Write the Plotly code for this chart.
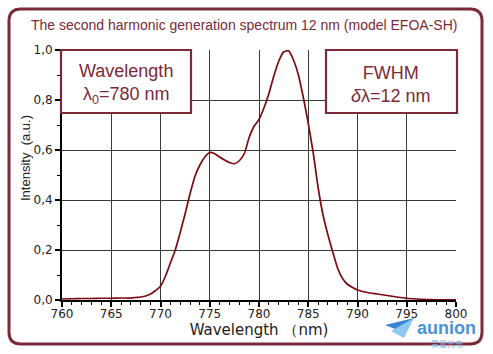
import plotly.graph_objects as go

# ---------------- data ----------------
wavelength = [760.0, 761.0, 762.0, 763.0, 764.0, 765.0, 766.0, 767.0, 767.5, 768.0,
              768.5, 769.0, 769.5, 770.0, 770.5, 771.0, 771.5, 772.0, 772.5, 773.0,
              773.5, 774.0, 774.5, 775.0, 775.5, 776.0, 776.5, 777.0, 777.5, 778.0,
              778.5, 779.0, 779.5, 780.0, 780.5, 781.0, 781.5, 782.0, 782.5, 783.0,
              783.5, 784.0, 784.5, 785.0, 785.5, 786.0, 786.5, 787.0, 787.5, 788.0,
              788.5, 789.0, 789.5, 790.0, 791.0, 792.0, 793.0, 794.0, 795.0, 796.0,
              797.0, 798.0, 799.0, 800.0]
intensity = [0.004, 0.005, 0.006, 0.006, 0.007, 0.007, 0.008, 0.008, 0.010, 0.012,
             0.016, 0.024, 0.038, 0.055, 0.095, 0.148, 0.200, 0.270, 0.345, 0.425,
             0.495, 0.540, 0.572, 0.590, 0.585, 0.572, 0.560, 0.550, 0.545, 0.557,
             0.585, 0.650, 0.695, 0.722, 0.768, 0.825, 0.895, 0.955, 0.992, 0.997,
             0.960, 0.900, 0.810, 0.707, 0.590, 0.450, 0.340, 0.260, 0.190, 0.125,
             0.085, 0.062, 0.050, 0.040, 0.030, 0.024, 0.018, 0.012, 0.007, 0.004,
             0.002, 0.001, 0.001, 0.001]

x_ticks = [760, 765, 770, 775, 780, 785, 790, 795, 800]
y_ticks = [0.0, 0.2, 0.4, 0.6, 0.8, 1.0]
y_ticklabels = ["0,0", "0,2", "0,4", "0,6", "0,8", "1,0"]
x_grid = [765, 770, 775, 780, 785, 790, 795]
y_grid = [0.2, 0.4, 0.6, 0.8]

title_text = "The second harmonic generation spectrum 12 nm (model EFOA-SH)"
x_title = "Wavelength （nm)"
y_title = "Intensity  (a.u.)"
left_box_text = "Wavelength<br>λ<sub>0</sub>=780 nm"
right_box_text = "FWHM<br><i>δ</i>λ=12 nm"

# ---------------- styling ----------------
W, H = 493, 354
ML, MR, MT, MB = 62, 37, 50, 54
PW, PH = W - ML - MR, H - MT - MB
DARKRED = "#7a2a38"
CURVE = "#7d0a10"


def px(xp):
    return (xp - ML) / PW


def py(yp):
    return (H - MB - yp) / PH


fig = go.Figure()

fig.add_trace(go.Scatter(x=[760], y=[0], xaxis="x2", yaxis="y2", mode="lines",
                         opacity=0, hoverinfo="skip", showlegend=False))
fig.add_trace(go.Scatter(x=wavelength, y=intensity, mode="lines",
                         line=dict(color=CURVE, width=1.7, shape="spline",
                                   smoothing=0.6),
                         showlegend=False))

axis_font = dict(family="DejaVu Sans", size=12, color="#222")

fig.update_layout(
    width=W, height=H,
    margin=dict(l=ML, r=MR, t=MT, b=MB),
    paper_bgcolor="white", plot_bgcolor="white",
    showlegend=False,
    xaxis=dict(range=[760, 800], tickvals=x_ticks, ticks="outside", ticklen=5,
               tickwidth=1.5, tickcolor="black", showline=True, linecolor="black",
               linewidth=2, showgrid=False, zeroline=False, tickfont=axis_font,
               ticklabelstandoff=-3,
               minor=dict(dtick=1, ticks="outside", ticklen=3, tickcolor="black",
                          tickwidth=1, showgrid=False),
               title=dict(text=x_title, standoff=3,
                          font=dict(family="DejaVu Sans", size=15, color="#222"))),
    yaxis=dict(range=[0, 1.0], tickvals=y_ticks, ticktext=y_ticklabels,
               ticks="outside", ticklen=5, tickwidth=1.5, tickcolor="black",
               showline=True, linecolor="black", linewidth=2, showgrid=False,
               zeroline=False, tickfont=axis_font,
               minor=dict(dtick=0.1, ticks="outside", ticklen=3, tickcolor="black",
                          tickwidth=1, showgrid=False)),
    xaxis2=dict(range=[760, 800], overlaying="x", tickvals=x_grid,
                showticklabels=False, ticks="", showline=False, showgrid=True,
                gridcolor="#3a3a3a", gridwidth=1, zeroline=False),
    yaxis2=dict(range=[0, 1.0], overlaying="y", tickvals=y_grid,
                showticklabels=False, ticks="", showline=False, showgrid=True,
                gridcolor="#3a3a3a", gridwidth=1, zeroline=False),
)

# y-axis title (placed as in the reference, above the axis centre)
fig.add_annotation(text=y_title, xref="paper", yref="paper",
                   x=px(25), y=py(158), showarrow=False, textangle=-90,
                   font=dict(family="Liberation Sans", size=13, color="#222"),
                   xanchor="center", yanchor="middle")

# outer rounded frame
x0, x1, y0, y1 = px(9), px(482), py(344), py(9)
rx, ry = 12 / PW, 12 / PH
frame = (f"M {x0+rx},{y1} L {x1-rx},{y1} Q {x1},{y1} {x1},{y1-ry} "
         f"L {x1},{y0+ry} Q {x1},{y0} {x1-rx},{y0} L {x0+rx},{y0} "
         f"Q {x0},{y0} {x0},{y0+ry} L {x0},{y1-ry} Q {x0},{y1} {x0+rx},{y1} Z")
fig.add_shape(type="path", path=frame, xref="paper", yref="paper",
              line=dict(color=DARKRED, width=3), layer="above")

# boxes
fig.add_shape(type="rect", xref="paper", yref="paper",
              x0=px(61), x1=px(191), y0=py(113), y1=py(50),
              fillcolor="white", line=dict(color=DARKRED, width=2.2), layer="above")
fig.add_shape(type="rect", xref="paper", yref="paper",
              x0=px(326), x1=px(457), y0=py(113), y1=py(50),
              fillcolor="white", line=dict(color=DARKRED, width=2.2), layer="above")

box_font = dict(family="Liberation Sans", size=18, color=DARKRED)
fig.add_annotation(text=left_box_text, xref="paper", yref="paper",
                   x=px(126), y=py(84), showarrow=False, font=box_font,
                   xanchor="center", yanchor="middle")
fig.add_annotation(text=right_box_text, xref="paper", yref="paper",
                   x=px(391), y=py(84), showarrow=False, font=box_font,
                   xanchor="center", yanchor="middle")

# title
fig.add_annotation(text=title_text, xref="paper", yref="paper",
                   x=px(244), y=py(25), showarrow=False,
                   font=dict(family="Liberation Sans", size=14, color=DARKRED),
                   xanchor="center", yanchor="middle")

# logo
plane1 = f"M {px(385)},{py(325)} L {px(414)},{py(318)} L {px(400)},{py(331)} Z"
plane2 = f"M {px(391)},{py(331)} L {px(414)},{py(318)} L {px(404)},{py(338)} Z"
fig.add_shape(type="path", path=plane1, xref="paper", yref="paper",
              fillcolor="#3b86d2", line=dict(width=0), layer="above")
fig.add_shape(type="path", path=plane2, xref="paper", yref="paper",
              fillcolor="#8cc8f0", line=dict(width=0), layer="above")
fig.add_annotation(text="<b>aunion</b>", xref="paper", yref="paper",
                   x=px(446), y=py(328), showarrow=False,
                   font=dict(family="Liberation Sans", size=18, color="#4a93d8"),
                   xanchor="center", yanchor="middle")
fig.add_annotation(text="昊量光电", xref="paper", yref="paper",
                   x=px(447), y=py(343), showarrow=False,
                   font=dict(family="Noto Sans CJK SC", size=8, color="#7fb4e6"),
                   xanchor="center", yanchor="middle")

fig.write_html("out.html")
